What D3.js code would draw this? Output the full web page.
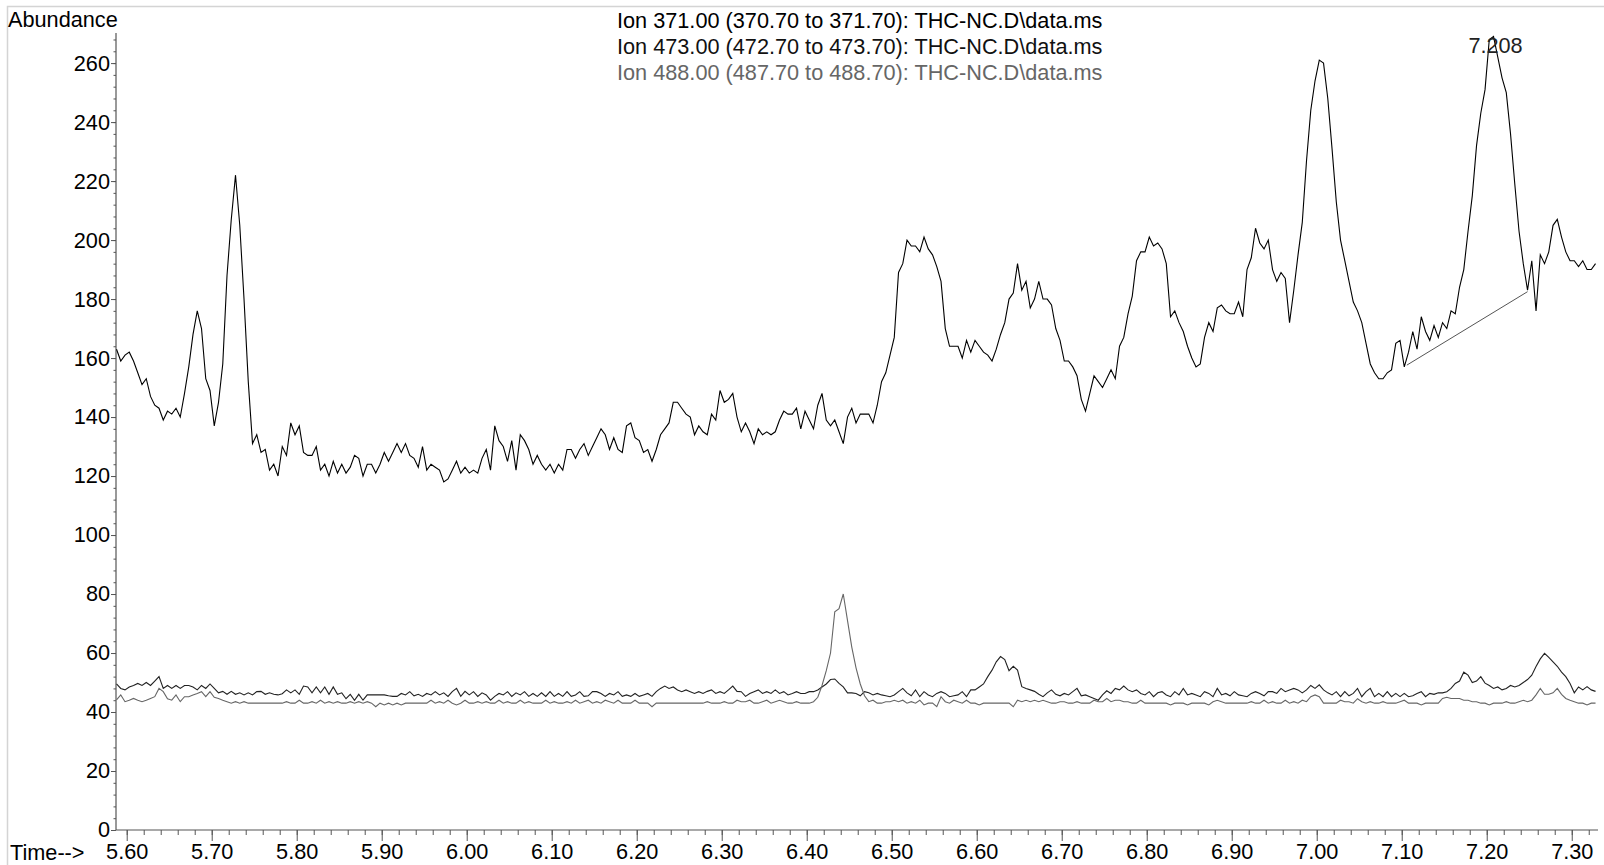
<!DOCTYPE html>
<html>
<head>
<meta charset="utf-8">
<script src="https://cdn.jsdelivr.net/npm/d3@7"></script>
<style>
  html, body { margin: 0; padding: 0; background: #fff; }
  svg { display: block; font-family: "Liberation Sans", Arial, sans-serif; }
</style>
</head>
<body>
<svg id="chart" width="1604" height="865"></svg>
<script>
// ---------- data ----------
const legendLabels = [
  "Ion 371.00 (370.70 to 371.70): THC-NC.D\\data.ms",
  "Ion 473.00 (472.70 to 473.70): THC-NC.D\\data.ms",
  "Ion 488.00 (487.70 to 488.70): THC-NC.D\\data.ms"
];
const scanStart = 5.588;   // min, first scan
const scanStep = 0.005;    // min between plotted scans

const ion371 = [
  163,159,161,162,159,155,151,153,147,144,
  143,139,142,141,143,140,148,157,168,176,
  170,153,149,137,145,158,188,207,222,205,
  180,152,131,134,128,129,122,124,120,130,
  127,138,134,137,128,127,127,130,122,124,
  120,125,121,124,121,123,127,126,120,124,
  124,121,124,128,125,128,131,128,131,127,
  126,123,130,122,124,123,122,118,119,122,
  125,121,123,121,122,121,126,129,122,137,
  132,130,125,132,122,134,132,129,124,127,
  124,122,124,121,124,122,129,129,126,129,
  131,127,130,133,136,134,129,133,129,128,
  137,138,133,132,128,129,125,129,134,136,
  138,145,145,143,141,140,134,137,135,134,
  141,139,149,145,146,148,140,135,138,135,
  131,136,134,135,134,135,139,142,141,141,
  143,136,142,139,136,144,148,139,137,139,
  135,131,140,143,138,141,141,141,138,144,
  152,155,161,167,189,192,200,198,198,196,
  201,197,195,191,186,170,164,164,164,160,
  166,162,166,164,162,161,159,163,168,172,
  180,182,192,183,186,177,180,186,180,180,
  178,170,166,159,159,157,154,146,142,148,
  154,152,150,153,156,153,164,167,175,181,
  193,196,196,201,198,199,197,192,174,176,
  172,169,164,160,157,158,167,172,169,177,
  178,176,175,175,179,174,190,194,204,199,
  197,200,190,186,189,187,172,183,195,206,
  227,244,254,261,260,248,231,213,200,193,
  186,179,176,172,165,158,155,153,153,155,
  156,165,166,157,162,169,163,174,169,166,
  171,167,172,170,176,175,184,190,203,215,
  232,243,251,268,269,262,255,250,236,219,
  203,192,183,193,176,195,192,196,205,207,
  201,196,193,193,191,193,190,190,192
];

const ion473 = [
  49.5,48,47.5,48.5,49,49.7,49,50,49,50.5,
  52,
  48,49,48,49,48,49,49,48.5,47.5,49,48,49.5,
  48,46.5,47,46,47,46,46.5,45.8,46.5,45.8,46.9,47,46,
  46.5,46,45.8,46.2,47.5,46.5,47.5,46,48.8,48.5,46.5,48.5,46.5,48.5,46,
  48.5,46,46.5,44.5,46,44,46,44,45.8,45.8,45.8,45.8,
  45.8,45.5,45.3,45.3,46.3,45.8,46.9,45.5,46,45.3,46.3,45.8,46.9,45.8,46.5,45.3,46.9,48,
  45.3,47,45.8,46.9,45.3,46.5,45.8,44,45.3,46.3,45.8,46.9,45.3,46.5,45.8,46.9,45.3,46.3,45.3,46.5,
  45.3,46.9,45.3,46.3,45.3,46.9,45.3,45.8,46.9,45.3,45.5,46.9,46.9,46.3,45.3,46.3,45.8,46.9,45.3,45.8,
  45.3,46.3,45.3,45.8,46.3,45.3,46.9,48,48.8,48,48.5,47.5,46.9,47.5,46.9,46.3,46.9,46.3,47,47.5,
  46.3,46.9,46.3,47.5,48.8,47,46.9,45.3,46.3,46.9,47.5,46.3,46.9,46.3,47.5,46.3,46.9,45.8,46.3,46.9,46.3,46.3,46.9,
  46.9,47.5,48.5,49.5,51,51.2,49.7,48.5,46.5,
  46.5,46.3,45.5,46.9,46.5,45.8,46.3,45.8,45.5,45.2,45.8,46.9,48,46.5,45.5,47.5,45.2,46.9,45.8,45.2,46.3,46.9,46.3,45.2,45.5,45.8,46.9,45.2,47.5,47.5,48.5,
  49.5,52,54.2,57,58.8,57.8,54,55.5,54.2,48.6,48,47.5,47,46,45.2,
  46.5,47.5,46,45.5,46.3,45.8,46.9,48,45.5,45.8,
  45.2,44.6,44,45.8,47.2,46.3,48,47.5,48.8,47.5,
  46.9,47.5,46.3,45.8,46.9,45.2,46.5,46.9,45.8,45.2,
  46.9,45.8,48,45.8,46.3,45.8,45.2,46.9,46.3,45.2,
  48,45.8,46.3,45.5,46.9,45.8,45.5,45.2,46.3,46.9,
  46.3,45.5,46.9,46.9,46.3,48,46.9,47.5,48,47.5,
  46.5,47.5,49,48,49.2,47.5,46.5,45.8,46.9,45.2,
  46.9,45.5,46.3,48,45.2,46.9,48,45.2,46.3,45.2,
  46.9,45.2,46.3,45.2,46.3,45.2,45.5,46.3,46.9,45.2,
  46.3,46,46.5,
  46.5,46.9,48,49.7,50.5,53.5,52.5,50,50.5,52,
  49.8,49,48,48.5,47.5,48,49,48.5,49,50,
  51,52.5,55.4,58,59.9,58.5,57,55.5,53.5,52,
  49.7,46.5,48.5,47.5,48.6,47.5,47
];

const ion488 = [
  44.1,45.8,43.5,44,44.6,44,43.5,44,44.6,45.2,
  48,46.9,44.5,44,45.8,43.5,45.2,45.2,45.8,46.3,
  46.9,45.2,46.9,45,44.6,44,43.5,43,43.5,43,
  43.5,
  43,43,43,43,43,43,43,43,43,43.5,43,43,44,43,43,43.5,43,
  44,43,43.5,43,43.5,43,43,43.5,43,43.5,43,43.5,43,41.8,43,42.4,43,42.4,
  43,42.4,43,43,43,43,43,43,44,43,43.5,43,44,43,42.4,43,44,43,43,43.5,
  43,43.5,43,43,44,43,43.5,43,43,44,43,43.5,43,43,43,44,43,43.5,43,43,
  43.5,43,44,43,43.5,44,43,43.5,43,44,43.5,43,44,43,43,43,44,43,43,43,
  41.8,43,43,43,43,43,43,43,43,43,43,43,43,43.5,43,43,43,43.5,43,43,
  44,43.5,43.5,44,43,43,43.5,44,43,43.5,44,43.5,43,43,43.5,43,43,43,
  43.5,45,49,54,60,74,75,80,71,62,55,49.5,45.5,43.5,
  44,43,43,43.5,43.5,44,43.5,44,43,43.5,43,44,42.4,43,43,41.8,45.2,43.5,43,44,43.5,43,44,43,43,42.4,
  43,43,43,43,43,43,43,41.8,44,43.5,44,43.5,
  44,43.5,44,43.5,43,43,43.5,43.5,43,43,43.5,43,43,43,44,43.5,43.5,44.6,43.5,44,
  44,43.5,43.5,43,43,44,43,43,43,43,43,43,42.4,43,43,43,42.4,43,43,43,
  43,42.4,43.5,44,43.5,43,43,43,43,43,43,43.5,43,43,44,43,43.5,43,43,44,
  43,43.5,43,44,43.5,45.2,45.8,45.2,43,43,43,43,44,43.5,43.5,43,44.5,43.5,43,43.5,
  43,43,43.5,43,43,43,43.5,44,43,43,43,42.4,43,43,43,43,
  44.6,45,44.6,44.6,44.6,44,44,43.5,43.5,43,
  43,42.4,43,43,43,43.5,43,43,43.5,44,
  43.5,44,45.8,48,46,46,46.5,48,46,44.6,
  44,43.5,43,43,42.4,43,43
];

// integration baseline drawn under the labelled peak
const peakLabel = "7.208";
const peakTime = 7.208;
const peakBaseTimes = [7.106, 7.248];
const peakBaseValues = [157.6, 182.5];

const xMajorTicks = [5.60,5.70,5.80,5.90,6.00,6.10,6.20,6.30,6.40,6.50,6.60,6.70,6.80,6.90,7.00,7.10,7.20,7.30];
const yMajorTicks = [0,20,40,60,80,100,120,140,160,180,200,220,240,260];

// ---------- drawing ----------
(function () {
const svg = d3.select("#chart");
const pLeft = 116, pRight = 1598, pTop = 33, pBottom = 830;
const FONT = "'Liberation Sans', Arial, sans-serif";
const FS = 21.7;

const x = d3.scaleLinear().domain([5.5874, 7.3309]).range([pLeft, pRight]);
const y = d3.scaleLinear().domain([0, 270.2]).range([pBottom, pTop]);

// outer frame
svg.append("rect")
  .attr("x", 7.5).attr("y", 6.5).attr("width", 1640).attr("height", 900)
  .attr("fill", "none").attr("stroke", "#d4d4d4").attr("stroke-width", 1.5);

const axisColor = "#555";

// y axis
const yMinor = d3.range(0, 270, 4);
const gy = svg.append("g").attr("transform", `translate(${pLeft},0)`);
gy.call(d3.axisLeft(y).tickValues(yMinor).tickSize(2.5).tickFormat(""))
  .call(g => g.select(".domain").remove())
  .call(g => g.selectAll("line").attr("stroke", axisColor));
gy.append("g")
  .call(d3.axisLeft(y).tickValues(yMajorTicks).tickSize(5).tickPadding(1).tickFormat(d => d))
  .call(g => g.select(".domain").remove())
  .call(g => g.selectAll("line").attr("stroke", axisColor))
  .call(g => g.selectAll("text").attr("fill", "#000").attr("font-size", FS).attr("font-family", FONT));
svg.append("line").attr("x1", pLeft).attr("x2", pLeft).attr("y1", pTop).attr("y2", pBottom)
  .attr("stroke", axisColor).attr("stroke-width", 1.2);

// x axis
const xMinor = d3.range(0, 87).map(k => 5.60 + k * 0.02).filter(v => v <= 7.331);
const gx = svg.append("g").attr("transform", `translate(0,${pBottom})`);
gx.call(d3.axisBottom(x).tickValues(xMinor).tickSize(5).tickFormat(""))
  .call(g => g.select(".domain").remove())
  .call(g => g.selectAll("line").attr("stroke", axisColor));
gx.append("g")
  .call(d3.axisBottom(x).tickValues(xMajorTicks).tickSize(11).tickPadding(3).tickFormat(d3.format(".2f")))
  .call(g => g.select(".domain").remove())
  .call(g => g.selectAll("line").attr("stroke", axisColor))
  .call(g => g.selectAll("text").attr("fill", "#000").attr("font-size", FS).attr("font-family", FONT));
svg.append("line").attr("x1", pLeft).attr("x2", pRight).attr("y1", pBottom).attr("y2", pBottom)
  .attr("stroke", axisColor).attr("stroke-width", 1.2);

// axis titles
svg.append("text").attr("x", 8).attr("y", 27).attr("font-size", FS).attr("fill", "#000").text("Abundance");
svg.append("text").attr("x", 10).attr("y", 859.5).attr("font-size", FS).attr("fill", "#000").text("Time-->");

// series
const line = d3.line()
  .x((d, i) => x(scanStart + i * scanStep))
  .y(d => y(d));

const series = [
  {data: ion473, color: "#222"},
  {data: ion488, color: "#666"},
  {data: ion371, color: "#000"}
];
series.forEach(s => {
  svg.append("path").datum(s.data)
    .attr("fill", "none").attr("stroke", s.color).attr("stroke-width", 1.1)
    .attr("d", line);
});

// integration baseline
svg.append("line")
  .attr("x1", x(peakBaseTimes[0])).attr("y1", y(peakBaseValues[0]))
  .attr("x2", x(peakBaseTimes[1])).attr("y2", y(peakBaseValues[1]))
  .attr("stroke", "#555").attr("stroke-width", 1);

// peak label
svg.append("text").attr("x", x(peakTime) + 2).attr("y", 53)
  .attr("text-anchor", "middle").attr("font-size", FS).attr("fill", "#222").text(peakLabel);

// legend
const legendColors = ["#000", "#111", "#666"];
legendLabels.forEach((t, i) => {
  svg.append("text").attr("x", 617).attr("y", 27.5 + i * 26)
    .attr("font-size", FS).attr("fill", legendColors[i]).text(t);
});
})();
</script>
</body>
</html>
